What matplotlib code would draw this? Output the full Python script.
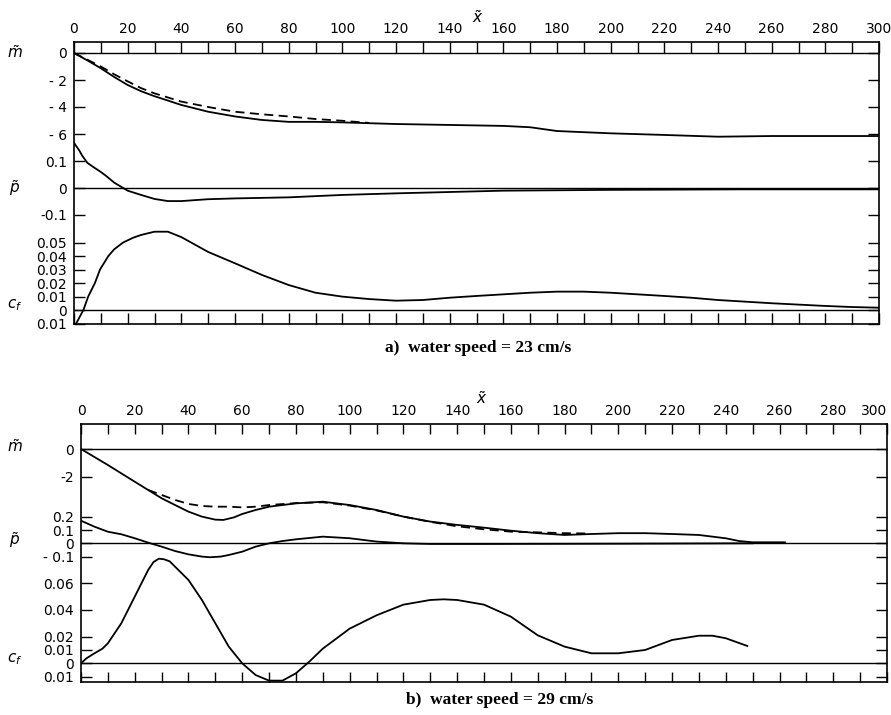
import numpy as np
import matplotlib
matplotlib.use('Agg')
import matplotlib.pyplot as plt

# ---- panel a: water speed 23 cm/s ----
xa_m = [0, 5, 10, 15, 20, 25, 30, 40, 50, 60, 70, 80, 90, 100, 120, 140, 160, 170, 180, 200, 220, 240, 260,
        280, 300]
ma = [0, -0.55, -1.13, -1.78, -2.37, -2.83, -3.2, -3.85, -4.35, -4.7, -4.96, -5.1, -5.1, -5.14, -5.26,
      -5.33, -5.4, -5.5, -5.78, -5.95, -6.07, -6.2, -6.15, -6.15, -6.15]
xa_md = [0, 5, 10, 15, 20, 25, 30, 40, 50, 60, 70, 80, 90, 100, 110]
ma_dash = [0, -0.5, -1.0, -1.58, -2.1, -2.6, -2.99, -3.6, -4.0, -4.35, -4.54, -4.7, -4.89, -5.02, -5.18]
xa_p = [0, 2, 3, 5, 7, 10, 12, 15, 20, 25, 30, 35, 40, 50, 60, 80, 100, 120, 140, 160, 200, 250, 300]
pa = [0.169, 0.14, 0.122, 0.094, 0.08, 0.06, 0.045, 0.02, -0.01, -0.026, -0.041, -0.049, -0.049, -0.042,
      -0.039, -0.035, -0.026, -0.02, -0.015, -0.01, -0.007, -0.005, -0.005]
xa_c = [0, 3.5, 5.3, 7.8, 9.7, 12.8, 15, 18.3, 22, 25, 30, 35, 40, 50, 60, 70, 80, 90, 100, 110, 120, 130,
        140, 150, 160, 170, 180, 190, 200, 210, 220, 230, 240, 250, 260, 270, 280, 290, 300]
cfa = [-0.013, 0, 0.01, 0.02, 0.03, 0.04, 0.045, 0.05, 0.0535, 0.0556, 0.058, 0.058, 0.054, 0.043, 0.0346,
       0.026, 0.0185, 0.0128, 0.0099, 0.0081, 0.0069, 0.0074, 0.0091, 0.0104, 0.0116, 0.0128, 0.0136,
       0.0136, 0.0128, 0.0116, 0.0104, 0.0091, 0.0074, 0.0062, 0.005, 0.004, 0.003, 0.0022, 0.0017]

# ---- panel b: water speed 29 cm/s ----
xb_m = [0, 10, 20, 25, 30, 35, 40, 45, 50, 53, 57, 60, 65, 70, 80, 90, 100, 110, 120, 130, 140, 150, 160,
        170, 180, 190, 200, 210, 220, 230, 240, 245, 250, 262]
mb = [0, -1.16, -2.37, -2.97, -3.57, -4.06, -4.54, -4.9, -5.12, -5.14, -4.95, -4.71, -4.42, -4.18, -3.94,
      -3.82, -4.06, -4.42, -4.9, -5.26, -5.5, -5.7, -5.92, -6.1, -6.23, -6.16, -6.1, -6.1, -6.16, -6.23,
      -6.47, -6.67, -6.76, -6.76]
xb_md = [25, 30, 35, 40, 45, 50, 55, 60, 65, 70, 80, 90, 100, 110, 120, 130, 140, 150, 160, 170, 180, 188]
mb_dash = [-2.97, -3.33, -3.69, -3.98, -4.13, -4.18, -4.18, -4.23, -4.18, -4.06, -3.92, -3.86, -4.1, -4.45,
           -4.9, -5.28, -5.6, -5.82, -5.99, -6.04, -6.1, -6.12]
xb_p = [0, 5, 10, 15, 20, 25, 30, 35, 40, 45, 48, 52, 55, 60, 65, 70, 75, 80, 90, 100, 110, 120, 130, 150,
        200, 250]
pb = [0.17, 0.125, 0.087, 0.068, 0.038, 0.005, -0.025, -0.058, -0.083, -0.1, -0.105, -0.1, -0.088, -0.063,
      -0.025, 0, 0.017, 0.03, 0.05, 0.038, 0.013, 0, -0.005, -0.005, -0.003, 0]
xb_c = [0, 2, 5, 8, 10, 15, 20, 25, 27, 29, 31, 33, 35, 40, 45, 50, 55, 60, 65, 70, 75, 80, 85, 90, 100,
        110, 120, 130, 135, 140, 150, 160, 170, 180, 190, 200, 210, 220, 230, 235, 240, 248]
cfb = [0, 0.0037, 0.0075, 0.011, 0.015, 0.03, 0.05, 0.07, 0.076, 0.0785, 0.078, 0.0765, 0.0725, 0.0625,
       0.0475, 0.03, 0.0125, 0, -0.0088, -0.013, -0.013, -0.0075, 0.0013, 0.011, 0.026, 0.036, 0.044,
       0.0475, 0.048, 0.0475, 0.044, 0.035, 0.021, 0.0125, 0.0075, 0.0075, 0.01, 0.0175, 0.0207, 0.0207,
       0.0188, 0.013]

W, H = 891, 715
fig = plt.figure(figsize=(W / 100, H / 100), dpi=100)
fig.patch.set_facecolor('white')
LW = 1.3


def layer(box, zero_px, px_per, ticks, labels, frame=False, xtick_len=8):
    left, top, right, bot = box
    rect = [left / W, 1 - bot / H, (right - left) / W, (bot - top) / H]
    ax = fig.add_axes(rect)
    ax.set_xlim(0, 300)
    ax.set_ylim(-(bot - zero_px) / px_per, (zero_px - top) / px_per)
    ax.patch.set_visible(False)
    ax.set_yticks(ticks, labels)
    ax.tick_params(axis='y', direction='in', left=True, right=True, length=8, width=1,
                   pad=5, labelsize=10)
    ax.axhline(0, color='k', lw=1.0)
    if frame:
        for s in ax.spines.values():
            s.set_linewidth(1.2)
        ax.set_xticks(range(0, 301, 20))
        ax.set_xticks(range(0, 301, 10), minor=True)
        ax.tick_params(axis='x', which='both', top=True, bottom=True, labeltop=True,
                       labelbottom=False, direction='in', length=xtick_len, width=1,
                       pad=4, labelsize=10)
    else:
        for s in ax.spines.values():
            s.set_visible(False)
        ax.tick_params(axis='x', which='both', top=False, bottom=False,
                       labeltop=False, labelbottom=False)
    return ax


# panel a
box_a = (74, 42, 879, 324)
am = layer(box_a, 53, 13.5, [0, -2, -4, -6], ['0', '- 2', '- 4', '- 6'], frame=True, xtick_len=8)
ap = layer(box_a, 188, 267, [0.1, 0, -0.1], ['0.1', '0', '-0.1'])
ac = layer(box_a, 310, 1350, [0.05, 0.04, 0.03, 0.02, 0.01, 0, -0.01],
           ['0.05', '0.04', '0.03', '0.02', '0.01', '0', '0.01'])
am.plot(xa_m, ma, color='k', lw=LW)
am.plot(xa_md, ma_dash, color='k', lw=LW, dashes=(5, 3))
ap.plot(xa_p, pa, color='k', lw=LW)
ac.plot(xa_c, cfa, color='k', lw=LW)

# panel b
box_b = (81, 424, 887, 682)
bm = layer(box_b, 449, 13.8, [0, -2], ['0', '-2'], frame=True, xtick_len=7.5)
bp = layer(box_b, 543.3, 133, [0.2, 0.1, 0, -0.1], ['0.2', '0.1', '0', '- 0.1'])
bc = layer(box_b, 663.3, 1333, [0.06, 0.04, 0.02, 0.01, 0, -0.01],
           ['0.06', '0.04', '0.02', '0.01', '0', '0.01'])
bm.plot(xb_m, mb, color='k', lw=LW)
bm.plot(xb_md, mb_dash, color='k', lw=LW, dashes=(5, 3))
bp.plot(xb_p, pb, color='k', lw=LW)
bc.plot(xb_c, cfb, color='k', lw=LW)
# the last top label sits at the page edge; keep it inside
bm.get_xticklabels()[-1].set_horizontalalignment('right')

# variable names and captions
for y, s in [(53, r'$\tilde{m}$'), (188, r'$\tilde{p}$'), (305, r'$c_f$'),
             (447, r'$\tilde{m}$'), (540, r'$\tilde{p}$'), (659, r'$c_f$')]:
    fig.text(15 / W, 1 - y / H, s, ha='center', va='center', fontsize=11)
fig.text(478 / W, 1 - 18 / H, r'$\tilde{x}$', ha='center', va='center', fontsize=11)
fig.text(482 / W, 1 - 399 / H, r'$\tilde{x}$', ha='center', va='center', fontsize=11)
fig.text(478 / W, 1 - 348 / H, 'a)  water speed = 23 cm/s', ha='center', va='center',
         fontsize=12.5, family='Liberation Serif', weight='bold')
fig.text(500 / W, 1 - 700 / H, 'b)  water speed = 29 cm/s', ha='center', va='center',
         fontsize=12.5, family='Liberation Serif', weight='bold')

fig.savefig('out.png', dpi=100)
